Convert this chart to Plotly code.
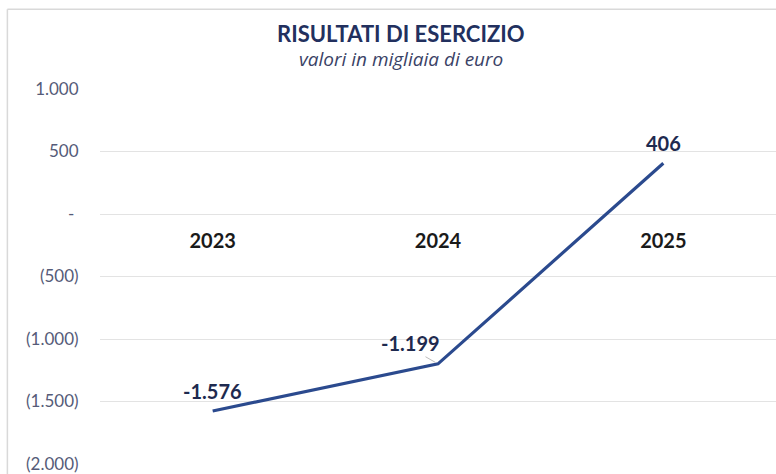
import plotly.graph_objects as go

years = ["2023", "2024", "2025"]
results = [-1576, -1199, 406]
tick_vals = [1000, 500, 0, -500, -1000, -1500, -2000]
tick_text = ["1.000", "500", "-", "(500)", "(1.000)", "(1.500)", "(2.000)"]

def fmt(v):
    return f"{v:,}".replace(",", ".")

LINE = "#2B4A8E"
LABEL = "#1E2A4F"
FONT = "Lato, Open Sans, sans-serif"

# zero dash carries a small trailing space (accounting alignment)
tick_disp = [t + "\u00a0" if t == "-" else t for t in tick_text]

fig = go.Figure()
fig.add_trace(go.Scatter(
    x=years, y=results, mode="lines",
    line=dict(color=LINE, width=3.2),
    hoverinfo="skip", showlegend=False,
))

# data labels: offsets (pixels) from each point
offsets = [(0, 20), (-28, 21), (0, 20)]
for i, (yr, v) in enumerate(zip(years, results)):
    dx, dy = offsets[i]
    fig.add_annotation(x=i, y=v, xref="x", yref="y", text=f"<b>{fmt(v)}</b>",
                       showarrow=False, xshift=dx, yshift=dy,
                       font=dict(family=FONT, size=20, color=LABEL))
# leader line for the middle label
fig.add_annotation(x=1, y=results[1], xref="x", yref="y", text="",
                   showarrow=True, ax=-14, ay=-8, arrowhead=0,
                   arrowwidth=1, arrowcolor="#BDBDBD", standoff=3)

# title and subtitle
fig.add_annotation(xref="paper", yref="paper", x=0.445, y=1.149, yanchor="middle",
                   text="<b>RISULTATI DI ESERCIZIO</b>", showarrow=False,
                   font=dict(family=FONT, size=22, color="#22305E"))
fig.add_annotation(xref="paper", yref="paper", x=0.445, y=1.08, yanchor="middle",
                   text="<i>valori in migliaia di euro</i>", showarrow=False,
                   font=dict(family="Open Sans, sans-serif", size=19, color="#3A4266"))

# chart frame (left and top border)
fig.add_shape(type="line", xref="paper", yref="paper", x0=-0.137, x1=1.02, y0=1.213, y1=1.213,
              line=dict(color="#D9D9D9", width=1.5))
fig.add_shape(type="line", xref="paper", yref="paper", x0=-0.137, x1=-0.137, y0=1.213, y1=-0.05,
              line=dict(color="#D9D9D9", width=1.5))

fig.update_layout(
    width=776, height=474,
    margin=dict(l=100, r=0, t=89, b=8),
    paper_bgcolor="white", plot_bgcolor="white",
    xaxis=dict(
        type="category", anchor="free", position=2/3, side="bottom",
        showgrid=False, zeroline=False, showline=False,
        ticks="outside", ticklen=9, tickcolor="rgba(0,0,0,0)",
        tickfont=dict(family=FONT, size=20, color="#1A1A1A"),
        tickprefix="<b>", ticksuffix="</b>",
        range=[-0.5, 2.5], fixedrange=True,
    ),
    yaxis=dict(
        range=[-2000, 1000], tickvals=tick_vals, ticktext=tick_disp,
        showgrid=True, gridcolor="#E3E3E3", gridwidth=1.3,
        zeroline=False, showline=False,
        ticks="outside", ticklen=17, tickcolor="rgba(0,0,0,0)",
        tickfont=dict(family=FONT, size=17, color="#555B78"),
        ticklabeloverflow="allow",
        fixedrange=True,
    ),
)

fig.write_html("out.html")
